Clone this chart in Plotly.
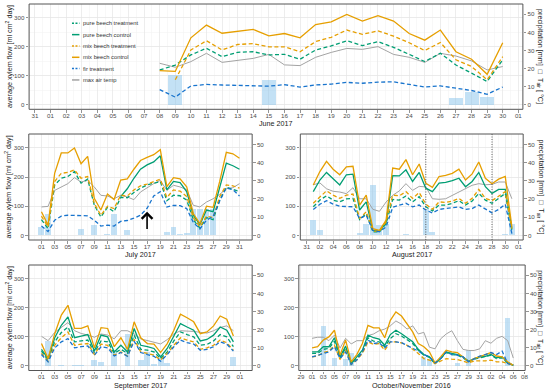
import pandas as pd
import plotly.graph_objects as go

W, H = 550, 392

# ---------------- data ----------------
# June 2017 (8 Jun - 30 Jun)
june_start = "2017-06-08"
june_pure_treat = [120, 137, 172, 195, 166, 181, 183, 172, 174, 157, 189, 203, 221, 204, 218, 198, 174, 149, 178, 137, 109, 80, 155]
june_pure_ctrl = [None] * 23
june_mix_treat = [None, 86, 189, 221, 189, 208, 211, 200, 200, 183, 218, 233, 258, 243, 255, 237, 214, 187, 215, 155, 132, 86, 166]
june_mix_ctrl = [118, 115, 231, 275, 247, 253, 260, 238, 246, 231, 277, 286, 312, 289, 308, 289, 246, 223, 258, 183, 157, 105, 214]
june_fir_treat = [52, 26, 65, 70, 68, 67, 66, 64, 69, 61, 68, 71, 77, 74, 78, 79, 70, 61, 65, 56, 49, 36, 61]
june_tmax = [22.9, 20.7, 23.8, 28.4, 23.4, 24.5, 25.6, 27.8, 22.0, 21.6, 26.2, 28.9, 31.1, 30.6, 32.1, 27.8, 26.2, 23.4, 28.4, 26.9, 24.2, 19.2, 21.1]
june_precip = [0, 16.5, 0, 0, 0, 0, 0, 13.7, 0, 0, 0, 0, 0, 0, 0, 0, 0, 0, 0, 3.5, 6.8, 4.2, 0]

# July 2017
jul_start = "2017-07-01"
jul_pure_treat = [54, 23, 173, 196, 202, 219, 179, 193, 104, 63, 96, 81, 130, 129, 147, 162, 173, 179, 185, 119, 138, 136, 121, 54, 25, 61, 54, 121, 165, 158, 150]
jul_pure_ctrl = [None] * 12 + [133, 160, 196, 227, 242, 252, 273, 156, 185, 181, 150, 69, 37, 87, 81, 165, 248, 239, 227]
jul_mix_treat = [66, 29, 185, 213, 216, 225, 196, 202, 110, 69, 100, 92, 138, 135, 156, 170, 176, 185, 193, 130, 156, 152, 133, 61, 29, 66, 61, 133, 173, 170, 162]
jul_mix_ctrl = [81, 35, 213, 283, 283, 300, 246, 271, 127, 87, 142, 123, 190, 194, 227, 257, 268, 277, 294, 167, 198, 194, 167, 75, 40, 100, 96, 185, 285, 280, 265]
jul_fir_treat = [32, 13, 52, 66, 69, 69, 69, 67, 52, 32, 35, 32, 48, 51, 59, 69, 93, 135, 150, 97, 103, 102, 92, 45, 22, 52, 65, 118, 163, 157, 135]
jul_tmax = [15.6, 15.9, 24.7, 26.6, 28.4, 31.7, 29.3, 30.2, 26.6, 22.0, 21.6, 20.1, 22.0, 21.1, 19.6, 23.8, 26.2, 28.4, 30.2, 24.7, 27.5, 26.6, 25.1, 16.5, 15.6, 18.3, 20.1, 22.5, 25.6, 26.2, 28.4]
jul_precip = [4.6, 12, 0, 0, 0, 0, 3.3, 0, 5.5, 0, 0.9, 11.9, 0, 3.1, 0, 0, 0, 0, 0, 1.8, 4.6, 0.5, 1.3, 14.3, 14.3, 14.3, 14.3, 0, 0, 0, 0]
jul_arrow_day = "2017-07-17"
jul_arrow_from, jul_arrow_to = 17, 81

# August 2017
aug_start = "2017-08-01"
aug_pure_treat = [98, 121, 136, 121, 115, 125, 127, 54, 75, 12, 12, 40, 123, 121, 135, 115, 133, 98, 84, 104, 104, 110, 119, 104, 118, 144, 121, 110, 127, 144, 17]
aug_pure_ctrl = [150, 190, 216, 196, 173, 208, 210, 87, 115, 17, 14, 43, 205, 204, 225, 185, 216, 162, 150, 179, 182, 188, 196, 167, 185, 216, 167, 144, 158, 158, 23]
aug_mix_treat = [110, 133, 153, 138, 127, 138, 142, 58, 81, 15, 14, 46, 138, 136, 150, 127, 147, 107, 89, 115, 113, 118, 127, 110, 127, 158, 127, 119, 133, 150, 23]
aug_mix_ctrl = [173, 219, 254, 227, 208, 235, 237, 104, 138, 23, 17, 52, 231, 227, 260, 208, 245, 179, 165, 202, 206, 213, 227, 190, 211, 252, 196, 177, 193, 202, 29]
aug_fir_treat = [89, 107, 119, 107, 100, 100, 98, 58, 69, 17, 12, 29, 96, 104, 110, 98, 104, 87, 77, 89, 92, 95, 98, 89, 92, 104, 89, 77, 89, 107, 6]
aug_tmax = [27.8, 28.8, 25.6, 24.2, 23.8, 22.9, 26.2, 20.1, 20.1, 14.3, 13.2, 18.3, 22.0, 24.4, 28.4, 24.7, 26.9, 26.6, 20.1, 19.8, 20.1, 22.0, 23.8, 25.6, 27.5, 28.4, 27.8, 28.0, 29.3, 29.3, 20.1]
aug_precip = [8.2, 3.1, 0, 0, 0, 0, 0, 1.3, 6.4, 27.5, 5.5, 6.4, 0, 0, 0.5, 0, 0, 14.7, 1.8, 0, 0, 0, 0, 0, 0, 0, 0, 0, 0, 0.5, 6.4]
aug_event_days = ["2017-08-18", "2017-08-28"]

# September 2017
sep_start = "2017-09-01"
sep_pure_treat = [51, 20, 83, 115, 134, 83, 86, 89, 46, 86, 83, 43, 57, 43, 106, 57, 54, 48, 25, 48, 86, 117, 108, 100, 71, 74, 86, 108, 100, 66]
sep_pure_ctrl = [57, 25, 97, 140, 169, 97, 103, 108, 51, 106, 100, 48, 71, 48, 129, 71, 66, 60, 31, 60, 103, 146, 134, 123, 86, 91, 106, 134, 123, 83]
sep_mix_treat = [43, 16, 71, 97, 117, 71, 75, 77, 39, 75, 71, 37, 48, 34, 92, 48, 43, 37, 20, 43, 71, 97, 89, 83, 57, 62, 71, 89, 80, 54]
sep_mix_ctrl = [77, 25, 111, 175, 209, 129, 129, 138, 62, 132, 129, 66, 97, 57, 152, 97, 77, 75, 46, 77, 123, 178, 166, 152, 111, 117, 138, 172, 161, 103]
sep_fir_treat = [39, 14, 62, 83, 94, 62, 66, 69, 37, 66, 62, 34, 46, 33, 85, 46, 39, 33, 16, 39, 66, 89, 80, 75, 54, 57, 66, 83, 75, 51]
sep_tmax = [16.3, 13.9, 18.5, 21.2, 23.9, 19.4, 17.9, 17.0, 15.8, 17.6, 17.0, 14.9, 19.4, 19.4, 17.6, 14.9, 13.9, 13.0, 12.1, 14.5, 17.6, 19.4, 19.4, 19.0, 18.5, 18.1, 19.4, 21.2, 22.1, 19.4]
sep_precip = [0, 13.6, 0, 0.4, 0, 0.7, 0.7, 0, 3.1, 2.2, 0, 8.5, 0, 17.6, 0, 3.1, 7.6, 0.9, 5.8, 1.8, 0, 0, 0, 0, 0, 0, 0, 0, 0, 4.9]

# October/November 2016 (1 Oct - 6 Nov)
oct_start = "2016-10-01"
oct_pure_treat = [43, 43, 57, 60, 85, 25, 62, 6, 25, 48, 97, 85, 83, 66, 94, 111, 103, 89, 77, 54, 37, 29, 8, 25, 46, 39, 37, 28, 14, 23, 28, 31, 37, 25, 28, 10, 2]
oct_pure_ctrl = [48, 48, 66, 66, 97, 31, 68, 8, 31, 54, 106, 97, 92, 71, 108, 123, 111, 97, 83, 57, 39, 31, 8, 25, 48, 43, 39, 31, 16, 25, 31, 33, 39, 28, 31, 11, 2]
oct_mix_treat = [31, 34, 46, 51, 71, 22, 54, 5, 20, 43, 83, 74, 77, 54, 83, 83, 79, 71, 57, 43, 25, 20, 8, 16, 25, 23, 22, 17, 10, 17, 17, 17, 20, 14, 14, 8, 2]
oct_mix_ctrl = [62, 66, 89, 100, 123, 37, 89, 14, 39, 77, 140, 131, 131, 97, 157, 186, 172, 143, 117, 77, 66, 48, 10, 31, 54, 48, 46, 31, 14, 25, 33, 39, 46, 34, 31, 14, 2]
oct_fir_treat = [31, 37, 43, 48, 66, 25, 48, 5, 20, 48, 89, 77, 80, 62, 83, 83, 80, 71, 62, 51, 39, 31, 10, 25, 48, 39, 37, 31, 14, 25, 34, 39, 46, 39, 51, 8, 2]
oct_tmax = [15.2, 15.8, 15.8, 13.9, 17.0, 9.8, 15.2, 12.1, 13.9, 13.9, 16.7, 17.6, 19.4, 20.3, 22.1, 24.8, 23.0, 20.3, 22.1, 17.6, 18.5, 10.3, 9.4, 14.9, 17.6, 19.4, 13.9, 9.1, 8.5, 8.5, 9.4, 13.9, 12.5, 15.2, 16.3, 13.9, 4.3]
oct_precip = [0, 0, 22, 0, 4.3, 0, 4.0, 7.0, 0, 0, 0, 0, 0, 0, 0, 0, 0, 0, 0, 0, 4.9, 4.0, 0, 0, 0, 0, 1.8, 0, 8.5, 0, 0, 0, 0, 0, 0, 26.7, 0]

series_names = ["pure beech treatment", "pure beech control", "mix beech treatment",
                "mix beech control", "fir treatment"]
temp_name = "max air temp"
flow_ticks = [0, 100, 200, 300]
right_ticks = [0, 10, 20, 30, 40, 50]

# ---------------- styling ----------------
FONT = "Liberation Sans, Arial, sans-serif"
GREEN, ORANGE, BLUE, GREY = "#009E73", "#E69F00", "#1874CD", "#A3A3A3"
BAR = "rgba(135,196,235,0.5)"
DASH = "4px,2.5px"
styles = {
    "pure beech treatment": dict(color=GREEN, dash=DASH),
    "pure beech control": dict(color=GREEN, dash="solid"),
    "mix beech treatment": dict(color=ORANGE, dash=DASH),
    "mix beech control": dict(color=ORANGE, dash="solid"),
    "fir treatment": dict(color=BLUE, dash=DASH),
    "max air temp": dict(color=GREY, dash="solid"),
}
DAY = 86400000
FLOW_RANGE = [-16, 348]
RIGHT_RANGE = [FLOW_RANGE[0] / 6.25, FLOW_RANGE[1] / 6.25]
TICKFONT = dict(family=FONT, size=6.2, color="#4D4D4D")
TITLEFONT = dict(family=FONT, size=7.2, color="#1A1A1A")

panels = [
    dict(title="June 2017", start=june_start,
         data=[june_pure_treat, june_pure_ctrl, june_mix_treat, june_mix_ctrl, june_fir_treat],
         tmax=june_tmax, precip=june_precip,
         px=(28.3, 525.7), py=(4, 109.3), xr=["2017-05-30 15:00", "2017-07-01 07:00"],
         tick0="2017-05-31", dtick=1, left=True, right=True),
    dict(title="July 2017", start=jul_start,
         data=[jul_pure_treat, jul_pure_ctrl, jul_mix_treat, jul_mix_ctrl, jul_fir_treat],
         tmax=jul_tmax, precip=jul_precip,
         px=(28, 253), py=(134, 240), xr=["2017-06-29 02:00", "2017-08-01 22:00"],
         tick0="2017-07-01", dtick=2, left=True, right=False),
    dict(title="August 2017", start=aug_start,
         data=[aug_pure_treat, aug_pure_ctrl, aug_mix_treat, aug_mix_ctrl, aug_fir_treat],
         tmax=aug_tmax, precip=aug_precip,
         px=(301.5, 526), py=(134, 240), xr=["2017-07-30 01:00", "2017-09-01 17:00"],
         tick0="2017-07-31", dtick=2, left=False, right=True),
    dict(title="September 2017", start=sep_start,
         data=[sep_pure_treat, sep_pure_ctrl, sep_mix_treat, sep_mix_ctrl, sep_fir_treat],
         tmax=sep_tmax, precip=sep_precip,
         px=(28, 253), py=(265, 370.5), xr=["2017-08-30 02:00", "2017-10-02 20:00"],
         tick0="2017-09-01", dtick=2, left=True, right=False),
    dict(title="October/November 2016", start=oct_start,
         data=[oct_pure_treat, oct_pure_ctrl, oct_mix_treat, oct_mix_ctrl, oct_fir_treat],
         tmax=oct_tmax, precip=oct_precip,
         px=(300, 528), py=(265, 370.5), xr=["2016-09-28 15:00", "2016-11-08 03:00"],
         tick0="2016-09-29", dtick=2, left=False, right=True),
]

fig = go.Figure()
layout = {}
shapes = []
annotations = []

for i, p in enumerate(panels):
    k = i + 1
    xa = "x" if k == 1 else f"x{k}"
    ym = "y" if k == 1 else f"y{2 * k - 1}"
    yo = f"y{2 * k}"
    dates = pd.date_range(p["start"], periods=len(p["tmax"]), freq="D")

    fig.add_trace(go.Bar(x=dates, y=p["precip"], xaxis=xa, yaxis=ym, width=0.9 * DAY,
                         marker=dict(color=BAR, line=dict(width=0)), showlegend=False))
    fig.add_trace(go.Scatter(x=dates, y=p["tmax"], xaxis=xa, yaxis=ym, mode="lines",
                             line=dict(color=GREY, width=1), showlegend=False))
    for name, vals in zip(series_names, p["data"]):
        st = styles[name]
        fig.add_trace(go.Scatter(x=dates, y=vals, xaxis=xa, yaxis=yo, mode="lines",
                                 line=dict(color=st["color"], dash=st["dash"], width=1.3),
                                 showlegend=False, connectgaps=False))

    xd = [p["px"][0] / W, p["px"][1] / W]
    yd = [1 - p["py"][1] / H, 1 - p["py"][0] / H]
    xkey = "xaxis" if k == 1 else f"xaxis{k}"
    ymkey = "yaxis" if k == 1 else f"yaxis{2 * k - 1}"
    yokey = f"yaxis{2 * k}"

    minor_dt = DAY / 2 if p["dtick"] == 1 else DAY
    layout[xkey] = dict(domain=xd, anchor=ym, type="date", range=p["xr"],
                        tick0=p["tick0"], dtick=p["dtick"] * DAY, tickformat="%d",
                        ticks="outside", ticklen=2.5, tickwidth=0.6, tickcolor="#4D4D4D",
                        tickfont=TICKFONT, ticklabelstandoff=-2,
                        showgrid=True, gridcolor="#E6E6E6", gridwidth=0.7,
                        minor=dict(dtick=minor_dt, tick0=p["tick0"], showgrid=True,
                                   gridcolor="#F1F1F1", gridwidth=0.5, ticks=""),
                        zeroline=False, showline=False)
    layout[ymkey] = dict(domain=yd, anchor=xa, side="right", range=RIGHT_RANGE,
                         tickvals=right_ticks, ticks="outside", ticklen=2.5, tickwidth=0.6,
                         tickcolor="#4D4D4D", tickfont=TICKFONT, showgrid=False,
                         zeroline=False, showline=False)
    layout[yokey] = dict(domain=yd, anchor=xa, overlaying=ym, side="left", range=FLOW_RANGE,
                         tickvals=flow_ticks, ticks="outside", ticklen=2.5, tickwidth=0.6,
                         tickcolor="#4D4D4D", tickfont=TICKFONT, showgrid=True,
                         gridcolor="#E6E6E6", gridwidth=0.7,
                         minor=dict(dtick=50, tick0=0, showgrid=True, gridcolor="#F1F1F1",
                                    gridwidth=0.5, ticks=""),
                         zeroline=False, showline=False)

    shapes.append(dict(type="rect", xref=f"{xa} domain", yref=f"{ym} domain",
                       x0=0, x1=1, y0=0, y1=1, line=dict(color="#555555", width=1),
                       layer="above"))

    cx = (p["px"][0] + p["px"][1]) / 2 / W
    annotations.append(dict(text=p["title"], x=cx, y=1 - (p["py"][1] + 14.5) / H,
                            xref="paper", yref="paper", showarrow=False,
                            xanchor="center", yanchor="middle", font=TITLEFONT))
    cy = 1 - (p["py"][0] + p["py"][1]) / 2 / H
    if p["left"]:
        annotations.append(dict(text="average xylem flow [ml cm<sup>2</sup> day]",
                                x=7.5 / W, y=cy, xref="paper", yref="paper",
                                showarrow=False, textangle=-90, xanchor="center",
                                yanchor="middle", font=TITLEFONT))
    if p["right"]:
        annotations.append(dict(text="precipitation [mm]  \u25a1  T<sub>air</sub> [ \u00b0C]",
                                x=543.5 / W, y=cy, xref="paper", yref="paper",
                                showarrow=False, textangle=90, xanchor="center",
                                yanchor="middle", font=TITLEFONT))

# August event markers
for d in aug_event_days:
    shapes.append(dict(type="line", xref="x3", yref="y5 domain", x0=d, x1=d, y0=0, y1=1,
                       line=dict(color="#555555", width=0.9, dash="1px,1.5px")))

# July arrow
annotations.append(dict(x=jul_arrow_day, y=jul_arrow_to, ax=jul_arrow_day, ay=jul_arrow_from,
                        xref="x2", yref="y4", axref="x2", ayref="y4", text="",
                        showarrow=True, arrowhead=4, arrowsize=1.3, arrowwidth=1.6,
                        arrowcolor="black"))

# legend (manual, inside June panel)
legend_order = series_names + [temp_name]
for j, name in enumerate(legend_order):
    yy = 1 - (23.3 + j * 11.33) / H
    st = styles[name]
    dash = "2px,1.5px" if st["dash"] != "solid" else "solid"
    shapes.append(dict(type="line", xref="paper", yref="paper", x0=71.5 / W, x1=79 / W,
                       y0=yy, y1=yy, line=dict(color=st["color"], width=1.5, dash=dash)))
    annotations.append(dict(text=name, x=81 / W, y=yy, xref="paper", yref="paper",
                            showarrow=False, xanchor="left", yanchor="middle",
                            font=dict(family=FONT, size=5.8, color="#333333")))

fig.update_layout(**layout)
fig.update_layout(width=W, height=H, margin=dict(l=0, r=0, t=0, b=0),
                  paper_bgcolor="white", plot_bgcolor="white",
                  shapes=shapes, annotations=annotations, showlegend=False,
                  font=dict(family=FONT), bargap=0, hovermode=False)

fig.write_html("out.html", config={"displayModeBar": False, "staticPlot": True},
               post_script="document.body.style.margin='0';document.body.style.overflow='hidden';")
